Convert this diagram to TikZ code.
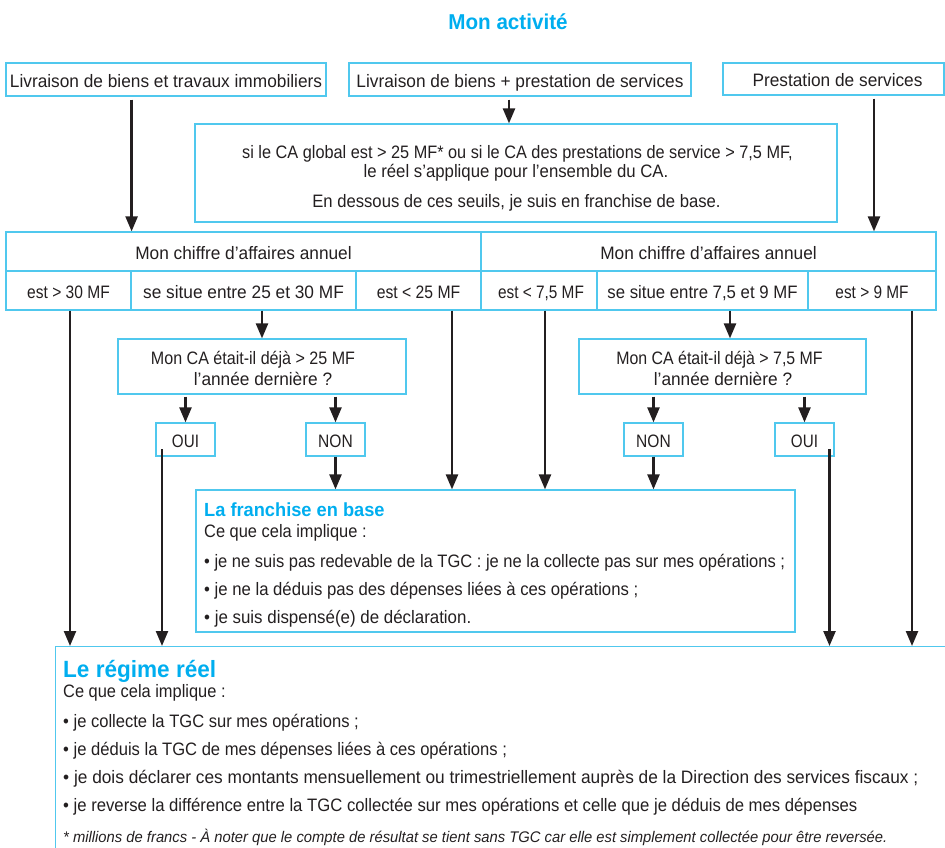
\documentclass[tikz,border=0pt]{standalone}
\usepackage{fontspec}
\setmainfont[FakeStretch=0.96]{Liberation Sans}
\usetikzlibrary{arrows.meta}
\definecolor{cy}{RGB}{0,174,239}
\definecolor{bd}{RGB}{80,200,238}
\definecolor{ink}{RGB}{35,31,32}
\newcommand{\sqz}[2]{\scalebox{#1}[1]{#2}}
\tikzset{
  bx/.style={draw=bd, line width=1.2pt, inner sep=0pt, text=ink,
    font=\fontsize{18}{21}\selectfont, text height=16pt, text depth=0pt},
  tx/.style={inner sep=0pt, text=ink, font=\fontsize{18}{21}\selectfont, anchor=base},
  txl/.style={tx, anchor=base west},
  hd/.style={inner sep=0pt, text=cy, anchor=base west},
  arr/.style={draw=ink, line width=2.4pt, -{Triangle[length=15pt,width=12pt]}},
}
\begin{document}
\begin{tikzpicture}[x=1pt,y=-1pt]
\path[use as bounding box] (0,0) rectangle (945,848);
\clip (0,0) rectangle (945,848);

% title
\node[inner sep=0pt, text=cy, anchor=base, font=\fontsize{21.5}{24}\selectfont\bfseries] (title) at (508,30) {Mon activité};

% top boxes
\node[bx, minimum width=320pt, minimum height=33pt] (boxA) at (166,79.5) {Livraison de biens et travaux immobiliers};
\node[bx, minimum width=342pt, minimum height=33pt] (boxB) at (520,79.5) {Livraison de biens + prestation de services};
\node[bx, minimum width=221pt, minimum height=32pt] (boxC) at (833.5,79) {\hspace*{8pt}Prestation de services};

% threshold box
\node[bx, minimum width=642pt, minimum height=98pt] (bxD) at (516,173) {};
\node[tx] (d1) at (517.5,158) {\sqz{0.943}{si le CA global est > 25 MF* ou si le CA des prestations de service > 7,5 MF,}};
\node[tx] (d2) at (516,178) {\sqz{0.97}{le réel s’applique pour l’ensemble du CA.}};
\node[tx] (d3) at (516.5,207) {\sqz{0.964}{En dessous de ces seuils, je suis en franchise de base.}};

% table
\node[bx, minimum width=475pt, minimum height=39pt] (hdrL) at (243.5,251.5) {Mon chiffre d’affaires annuel};
\node[bx, minimum width=455pt, minimum height=39pt] (hdrR) at (708.5,251.5) {Mon chiffre d’affaires annuel};
\node[bx, minimum width=125pt, minimum height=39pt] (c1) at (68.5,290.5) {\sqz{0.9}{est > 30 MF}};
\node[bx, minimum width=225pt, minimum height=39pt] (c2) at (243.5,290.5) {se situe entre 25 et 30 MF};
\node[bx, minimum width=125pt, minimum height=39pt] (c3) at (418.5,290.5) {\sqz{0.91}{est < 25 MF}};
\node[bx, minimum width=116pt, minimum height=39pt] (c4) at (539,290.5) {\hspace*{4pt}\sqz{0.89}{est < 7,5 MF}};
\node[bx, minimum width=211pt, minimum height=39pt] (c5) at (702.5,290.5) {\sqz{0.97}{se situe entre 7,5 et 9 MF}};
\node[bx, minimum width=128pt, minimum height=39pt] (c6) at (872,290.5) {\sqz{0.89}{est > 9 MF}};

% question boxes
\node[bx, minimum width=288pt, minimum height=55pt] (q1) at (262,366.5) {};
\node[tx] (q1a) at (253,364) {\sqz{0.93}{Mon CA était-il déjà > 25 MF}};
\node[tx] (q1b) at (263,385.5) {l’année dernière ?};
\node[bx, minimum width=287pt, minimum height=55pt] (q2) at (722.5,366.5) {};
\node[tx] (q2a) at (719.5,364) {\sqz{0.92}{Mon CA était-il déjà > 7,5 MF}};
\node[tx] (q2b) at (723,385.5) {l’année dernière ?};

% oui / non
\node[bx, minimum width=59pt, minimum height=33pt] (oui1) at (185.5,439.5) {\sqz{0.88}{OUI}};
\node[bx, minimum width=59pt, minimum height=33pt] (non1) at (335.5,439.5) {\sqz{0.9}{NON}};
\node[bx, minimum width=59pt, minimum height=33pt] (non2) at (653.5,439.5) {\sqz{0.9}{NON}};
\node[bx, minimum width=59pt, minimum height=33pt] (oui2) at (804.5,439.5) {\sqz{0.88}{OUI}};

% franchise box
\node[bx, minimum width=599pt, minimum height=142pt] (fr) at (495.5,561) {};
\node[hd, font=\fontsize{19}{22}\selectfont\bfseries] (fr0) at (204,516) {La franchise en base};
\node[txl] (fr1) at (204,537) {\sqz{0.95}{Ce que cela implique :}};
\node[txl] (fr2) at (204,567) {\sqz{0.955}{• je ne suis pas redevable de la TGC : je ne la collecte pas sur mes opérations ;}};
\node[txl] (fr3) at (204,595) {\sqz{0.967}{• je ne la déduis pas des dépenses liées à ces opérations ;}};
\node[txl] (fr4) at (204,623) {\sqz{0.978}{• je suis dispensé(e) de déclaration.}};

% reel box
\node[bx, anchor=north west, minimum width=950pt, minimum height=260pt] (reel) at (55,646) {};
\node[hd, font=\fontsize{23.5}{26}\selectfont\bfseries] (re0) at (63,677) {Le régime réel};
\node[txl] (re1) at (63,697) {\sqz{0.95}{Ce que cela implique :}};
\node[txl] (re2) at (63,727) {\sqz{0.958}{• je collecte la TGC sur mes opérations ;}};
\node[txl] (re3) at (63,755) {\sqz{0.96}{• je déduis la TGC de mes dépenses liées à ces opérations ;}};
\node[txl] (re4) at (63,783) {• je dois déclarer ces montants mensuellement ou trimestriellement auprès de la Direction des services fiscaux ;};
\node[txl] (re5) at (63,811) {\sqz{0.966}{• je reverse la différence entre la TGC collectée sur mes opérations et celle que je déduis de mes dépenses}};
\node[txl, font=\fontsize{15.4}{17}\selectfont\itshape] (re6) at (63,842) {* millions de francs - À noter que le compte de résultat se tient sans TGC car elle est simplement collectée pour être reversée.};

% coordinates for arrow starts
\coordinate (sB) at ([xshift=-11pt]boxB.south);
\coordinate (s3) at ([xshift=33.5pt]c3.south);
\coordinate (s4) at ([xshift=6pt]c4.south);
\coordinate (s5) at ([xshift=27.5pt]c5.south);
\coordinate (s6) at ([xshift=40pt]c6.south);
\coordinate (so1) at ([xshift=-23.5pt,yshift=-9.5pt]oui1.center);
\coordinate (so2) at ([xshift=25pt,yshift=-9.5pt]oui2.center);

% arrows
\draw[arr, shorten <=3pt] (boxA.south -| c1.east) -- (hdrL.north -| c1.east);
\draw[arr, shorten <=3pt] (sB) -- (sB |- bxD.north);
\draw[arr, shorten <=3pt] ([xshift=2pt]boxC.south -| c6) -- ([xshift=2pt]hdrR.north -| c6);

\draw[arr] ([xshift=1.5pt]c1.south) -- ([xshift=1.5pt]c1.south |- reel.north);
\draw[arr] (c2.south -| q1.north) -- (q1.north);
\draw[arr] (s3) -- (s3 |- fr.north);
\draw[arr] (s4) -- (s4 |- fr.north);
\draw[arr] (s5) -- (s5 |- q2.north);
\draw[arr] (s6) -- (s6 |- reel.north);

\draw[arr, shorten <=2pt] (q1.south -| oui1) -- (oui1.north);
\draw[arr, shorten <=2pt] (q1.south -| non1) -- (non1.north);
\draw[arr, shorten <=2pt] (q2.south -| non2) -- (non2.north);
\draw[arr, shorten <=2pt] (q2.south -| oui2) -- (oui2.north);

\draw[arr] (so1) -- (so1 |- reel.north);
\draw[arr] (so2) -- (so2 |- reel.north);
\draw[arr] (non1.south) -- (non1.south |- fr.north);
\draw[arr] (non2.south) -- (non2.south |- fr.north);
\end{tikzpicture}
\end{document}
